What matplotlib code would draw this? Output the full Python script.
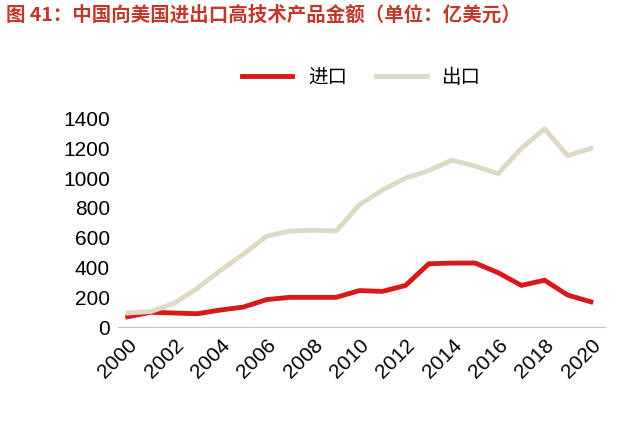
import matplotlib
matplotlib.use("Agg")
import matplotlib.pyplot as plt

plt.rcParams['font.family'] = ['Liberation Sans', 'Noto Sans CJK SC', 'DejaVu Sans']

years = list(range(2000, 2021))
imports = [70, 100, 95, 90, 115, 135, 185, 200, 200, 200, 245, 240, 280, 425, 430, 430, 365, 280, 315, 215, 170]
exports = [95, 105, 160, 260, 380, 490, 610, 645, 650, 645, 820, 920, 1000, 1050, 1120, 1080, 1030, 1200, 1330, 1150, 1200]
xticks = list(range(2000, 2021, 2))
yticks = list(range(0, 1401, 200))

fig = plt.figure(figsize=(6.4, 4.26), dpi=100)
ax = fig.add_axes([0.185, 0.232, 0.76, 0.49])
ax.plot(years, imports, color='#d7191c', lw=3.5, label='进口')
ax.plot(years, exports, color='#ddd9c4', lw=3.5, label='出口')
ax.set_xlim(1999.6, 2020.6)
ax.set_ylim(0, 1400)
ax.set_xticks(xticks)
ax.set_xticklabels([str(x) for x in xticks], rotation=45, fontsize=15,
                   ha='right', rotation_mode='anchor')
ax.set_yticks(yticks)
ax.set_yticklabels([str(y) for y in yticks], fontsize=15)
for s in ['top', 'right', 'left']:
    ax.spines[s].set_visible(False)
ax.spines['bottom'].set_color('#bfbfbf')
ax.tick_params(length=0, pad=6)
ax.legend(loc='upper center', bbox_to_anchor=(0.5, 1.33), ncol=2, frameon=False,
          fontsize=14, handlelength=2.6, columnspacing=1.5,
          prop={'family': ['Noto Sans CJK SC'], 'size': 14})
fig.text(0.01, 0.965, '图 41：中国向美国进出口高技术产品金额（单位：亿美元）',
         color='#c0392b', fontsize=14, fontweight='bold', va='center',
         family=['Noto Sans CJK SC', 'DejaVu Sans'])
fig.savefig('out.png', dpi=100)
